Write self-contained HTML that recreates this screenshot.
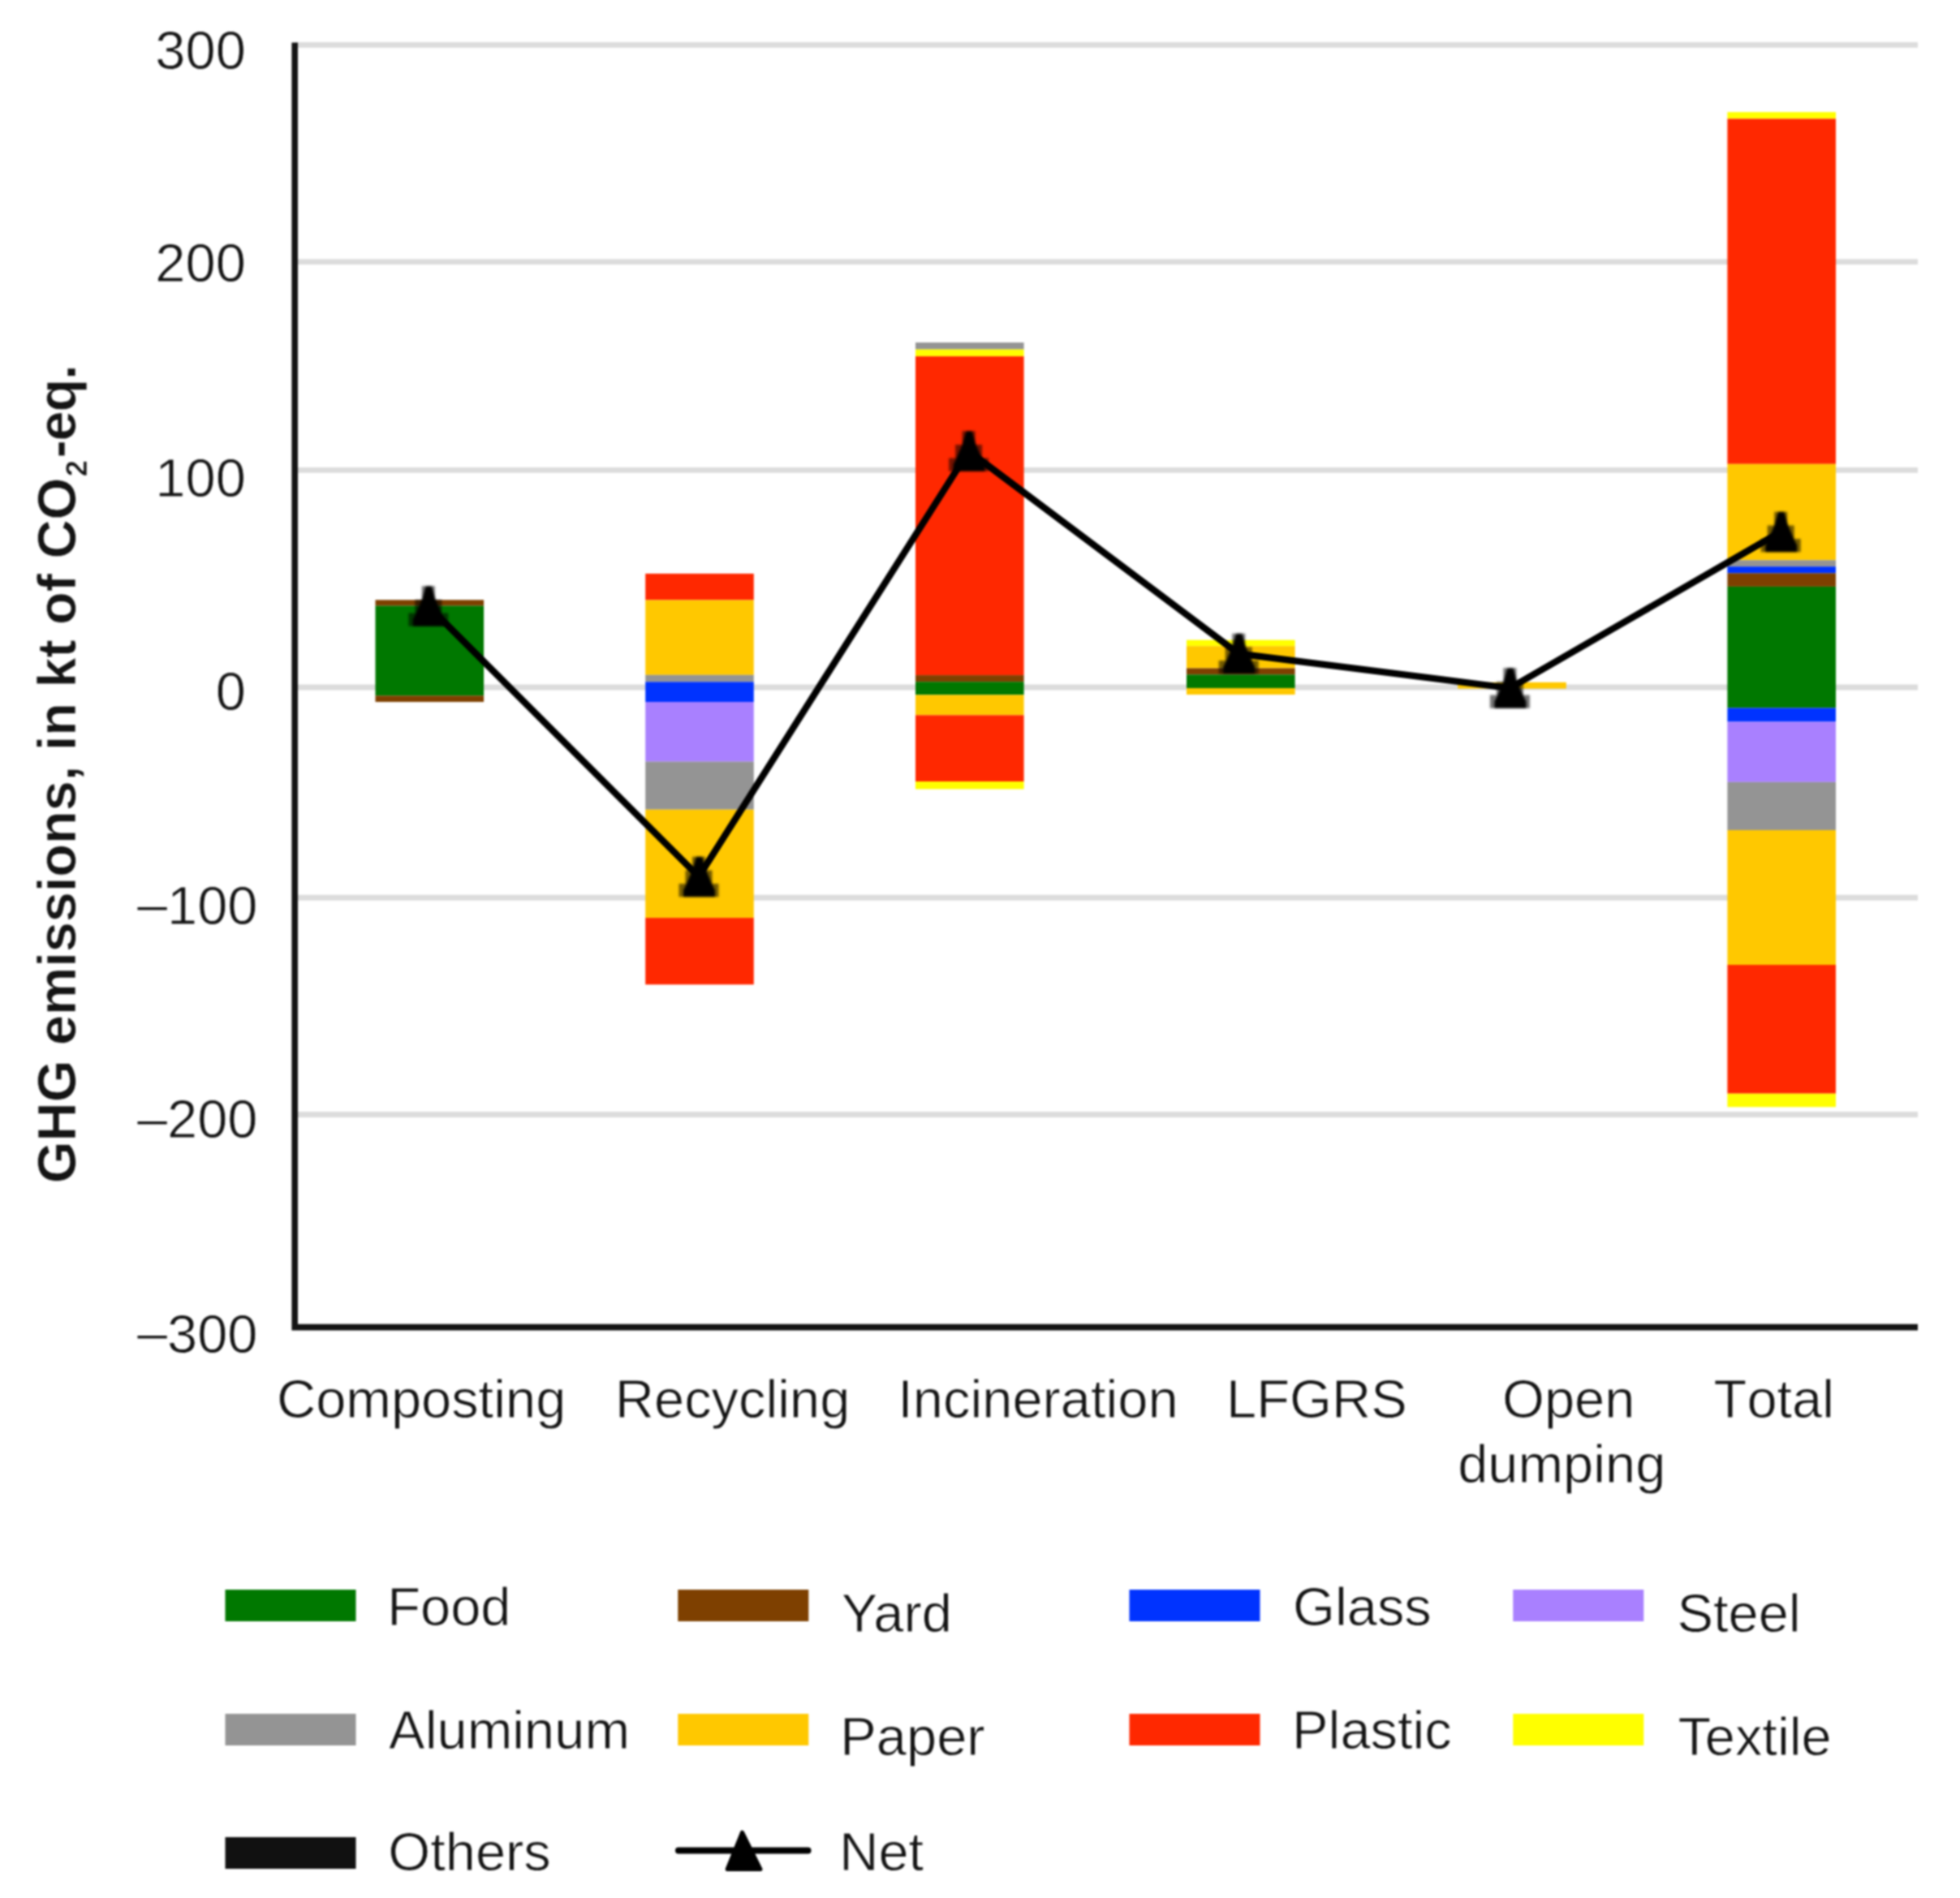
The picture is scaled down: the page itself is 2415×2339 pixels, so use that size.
<!DOCTYPE html>
<html lang="en"><head><meta charset="utf-8"><title>GHG emissions chart</title>
<style>html,body{margin:0;padding:0;background:#fff}svg{display:block;filter:blur(0.8px)}</style></head>
<body>
<svg width="2415" height="2339" viewBox="0 0 2415 2339">
<defs><filter id="soft" x="-5%" y="-5%" width="110%" height="110%"><feGaussianBlur stdDeviation="1.3"/></filter></defs>
<rect width="2415" height="2339" fill="#fff"/>
<g id="grid" stroke="#dcdcdc" stroke-width="6.9">
<line x1="363.2" y1="55.4" x2="2363" y2="55.4"/>
<line x1="363.2" y1="322.6" x2="2363" y2="322.6"/>
<line x1="363.2" y1="579.4" x2="2363" y2="579.4"/>
<line x1="363.2" y1="847" x2="2363" y2="847"/>
<line x1="363.2" y1="1106.3" x2="2363" y2="1106.3"/>
<line x1="363.2" y1="1373.5" x2="2363" y2="1373.5"/>
</g>
<g id="bars">
<rect x="462.5" y="739.3" width="133.6" height="7.3" fill="#7e4000"/>
<rect x="462.5" y="746.6" width="133.6" height="110.7" fill="#007800"/>
<rect x="462.5" y="857.3" width="133.6" height="7.7" fill="#7e4000"/>
<rect x="795.2" y="706.9" width="133.6" height="32.6" fill="#ff2800"/>
<rect x="795.2" y="739.5" width="133.6" height="92.3" fill="#ffc800"/>
<rect x="795.2" y="831.8" width="133.6" height="8.5" fill="#949494"/>
<rect x="795.2" y="840.3" width="133.6" height="24.7" fill="#0033ff"/>
<rect x="795.2" y="865" width="133.6" height="73.6" fill="#a980ff"/>
<rect x="795.2" y="938.6" width="133.6" height="59.1" fill="#949494"/>
<rect x="795.2" y="997.7" width="133.6" height="133.4" fill="#ffc800"/>
<rect x="795.2" y="1131.1" width="133.6" height="82.2" fill="#ff2800"/>
<rect x="1128.0" y="422.1" width="133.6" height="8.5" fill="#949494"/>
<rect x="1128.0" y="430.6" width="133.6" height="8.5" fill="#ffff00"/>
<rect x="1128.0" y="439.1" width="133.6" height="393.0" fill="#ff2800"/>
<rect x="1128.0" y="832.1" width="133.6" height="8.1" fill="#7e4000"/>
<rect x="1128.0" y="840.2" width="133.6" height="16.1" fill="#007800"/>
<rect x="1128.0" y="856.3" width="133.6" height="25.0" fill="#ffc800"/>
<rect x="1128.0" y="881.3" width="133.6" height="81.7" fill="#ff2800"/>
<rect x="1128.0" y="963" width="133.6" height="9.5" fill="#ffff00"/>
<rect x="1462.0" y="788.7" width="133.6" height="7.5" fill="#ffff00"/>
<rect x="1462.0" y="796.2" width="133.6" height="27.3" fill="#ffc800"/>
<rect x="1462.0" y="823.5" width="133.6" height="7.9" fill="#7e4000"/>
<rect x="1462.0" y="831.4" width="133.6" height="16.6" fill="#007800"/>
<rect x="1462.0" y="848" width="133.6" height="8.0" fill="#ffc800"/>
<rect x="1796.2" y="840.8" width="133.6" height="7.8" fill="#ffc800"/>
<rect x="2128.4" y="138.1" width="133.6" height="8.3" fill="#ffff00"/>
<rect x="2128.4" y="146.4" width="133.6" height="425.4" fill="#ff2800"/>
<rect x="2128.4" y="571.8" width="133.6" height="118.5" fill="#ffc800"/>
<rect x="2128.4" y="690.3" width="133.6" height="7.9" fill="#949494"/>
<rect x="2128.4" y="698.2" width="133.6" height="8.2" fill="#0033ff"/>
<rect x="2128.4" y="706.4" width="133.6" height="16.5" fill="#7e4000"/>
<rect x="2128.4" y="722.9" width="133.6" height="149.5" fill="#007800"/>
<rect x="2128.4" y="872.4" width="133.6" height="17.1" fill="#0033ff"/>
<rect x="2128.4" y="889.5" width="133.6" height="74.3" fill="#a980ff"/>
<rect x="2128.4" y="963.8" width="133.6" height="59.2" fill="#949494"/>
<rect x="2128.4" y="1023" width="133.6" height="166.0" fill="#ffc800"/>
<rect x="2128.4" y="1189" width="133.6" height="158.7" fill="#ff2800"/>
<rect x="2128.4" y="1347.7" width="133.6" height="16.5" fill="#ffff00"/>
</g>
<path id="axes" d="M363.2 52.5 V1635.6 H2363" fill="none" stroke="#141414" stroke-width="7.6"/>
<polyline id="net" points="527.8,746.9 861,1080.4 1193.6,555.9 1526.2,805.6 1860.4,848 2194.2,655.4" fill="none" stroke="#000" stroke-width="8.3" stroke-linejoin="round"/>
<g id="markers" fill="#000" filter="url(#soft)">
<path d="M519.8 722.15 h16 v16.75 h8.5 v16.5 h8 v16.25 h-49 v-16.25 h8 v-16.5 h8.5 Z" fill-opacity="0.55"/>
<path d="M524.8 722.15 h7 l5 16.75 l7 16.5 l4 8 v8.25 h-39 v-8.25 l4 -8 l7 -16.5 Z"/>
<path d="M853.0 1055.65 h16 v16.75 h8.5 v16.5 h8 v16.25 h-49 v-16.25 h8 v-16.5 h8.5 Z" fill-opacity="0.55"/>
<path d="M858.0 1055.65 h7 l5 16.75 l7 16.5 l4 8 v8.25 h-39 v-8.25 l4 -8 l7 -16.5 Z"/>
<path d="M1185.6 531.15 h16 v16.75 h8.5 v16.5 h8 v16.25 h-49 v-16.25 h8 v-16.5 h8.5 Z" fill-opacity="0.55"/>
<path d="M1190.6 531.15 h7 l5 16.75 l7 16.5 l4 8 v8.25 h-39 v-8.25 l4 -8 l7 -16.5 Z"/>
<path d="M1518.2 780.85 h16 v16.75 h8.5 v16.5 h8 v16.25 h-49 v-16.25 h8 v-16.5 h8.5 Z" fill-opacity="0.55"/>
<path d="M1523.2 780.85 h7 l5 16.75 l7 16.5 l4 8 v8.25 h-39 v-8.25 l4 -8 l7 -16.5 Z"/>
<path d="M1852.4 823.25 h16 v16.75 h8.5 v16.5 h8 v16.25 h-49 v-16.25 h8 v-16.5 h8.5 Z" fill-opacity="0.55"/>
<path d="M1857.4 823.25 h7 l5 16.75 l7 16.5 l4 8 v8.25 h-39 v-8.25 l4 -8 l7 -16.5 Z"/>
<path d="M2186.2 630.65 h16 v16.75 h8.5 v16.5 h8 v16.25 h-49 v-16.25 h8 v-16.5 h8.5 Z" fill-opacity="0.55"/>
<path d="M2191.2 630.65 h7 l5 16.75 l7 16.5 l4 8 v8.25 h-39 v-8.25 l4 -8 l7 -16.5 Z"/>
</g>
<g font-family="Liberation Sans, Arial, sans-serif" font-size="66.8" fill="#141414" stroke="#fff" stroke-width="0.8" stroke-linejoin="round">
<text x="302.8" y="84.8" text-anchor="end">300</text>
<text x="302.8" y="347.2" text-anchor="end">200</text>
<text x="302.8" y="612.3" text-anchor="end">100</text>
<text x="302.8" y="875.3" text-anchor="end">0</text>
<text x="317.5" y="1138.5" text-anchor="end"><tspan dy="-1.6">–</tspan><tspan dy="1.6">100</tspan></text>
<text x="317.5" y="1402.4" text-anchor="end"><tspan dy="-1.6">–</tspan><tspan dy="1.6">200</tspan></text>
<text x="317.5" y="1666.8" text-anchor="end"><tspan dy="-1.6">–</tspan><tspan dy="1.6">300</tspan></text>
<text x="340.9" y="1747" text-anchor="start">Composting</text>
<text x="757.8" y="1747" text-anchor="start">Recycling</text>
<text x="1106.3" y="1747" text-anchor="start">Incineration</text>
<text x="1511.0" y="1747" text-anchor="start">LFGRS</text>
<text x="1932.7" y="1747" text-anchor="middle">Open</text>
<text x="1924.3" y="1827.3" text-anchor="middle">dumping</text>
<text x="2111.6" y="1747" text-anchor="start" style="font-kerning:none">Total</text>
<text transform="translate(92.8,1458.2) rotate(-90)" font-weight="bold" font-size="66.6" stroke-width="0.6">GHG emissions, in kt of CO<tspan font-size="36" dx="1.5" dy="13.7">2</tspan><tspan dx="2.5" dy="-13.7" letter-spacing="-1">-eq.</tspan></text>
<rect x="277.5" y="1959" width="161" height="39" fill="#007800" stroke="none"/>
<text x="477.2" y="2002.7">Food</text>
<rect x="835.3" y="1959" width="161" height="39" fill="#7e4000" stroke="none"/>
<text x="1036.7" y="2011.1">Yard</text>
<rect x="1391.5" y="1959" width="161" height="39" fill="#0033ff" stroke="none"/>
<text x="1593.0" y="2002.7">Glass</text>
<rect x="1864.3" y="1959" width="161" height="39" fill="#a980ff" stroke="none"/>
<text x="2066.4" y="2011.1">Steel</text>
<rect x="277.5" y="2112" width="161" height="39" fill="#949494" stroke="none"/>
<text x="479.1" y="2155.4">Aluminum</text>
<rect x="835.3" y="2112" width="161" height="39" fill="#ffc800" stroke="none"/>
<text x="1035.3" y="2162.7">Paper</text>
<rect x="1391.5" y="2112" width="161" height="39" fill="#ff2800" stroke="none"/>
<text x="1592.0" y="2155.4">Plastic</text>
<rect x="1864.3" y="2112" width="161" height="39" fill="#ffff00" stroke="none"/>
<text x="2067.4" y="2162.7">Textile</text>
<rect x="277.5" y="2264" width="161" height="39" fill="#111111" stroke="none"/>
<text x="478.3" y="2305.2">Others</text>
<line x1="836" y1="2280.4" x2="995.5" y2="2280.4" stroke="#000" stroke-width="8" stroke-linecap="round"/>
<path d="M914.5 2258.2 L937 2303.5 H896.2 Z" fill="#000" stroke="#000" stroke-width="5" stroke-linejoin="round"/>
<text x="1034.2" y="2304.5">Net</text>
</g></svg>
</body></html>
